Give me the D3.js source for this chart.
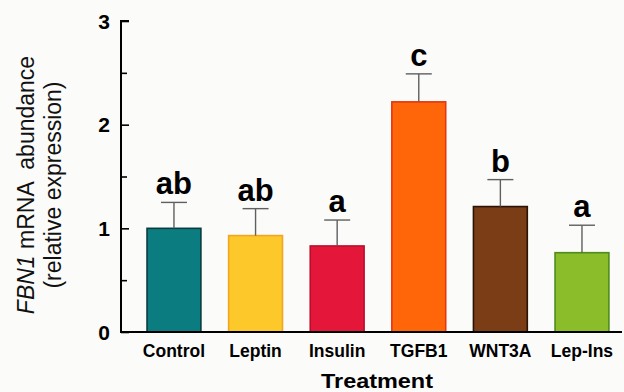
<!DOCTYPE html>
<html lang="en">
<head>
<meta charset="UTF-8">
<title>FBN1 mRNA abundance</title>
<script src="https://d3js.org/d3.v7.min.js"></script>
<style>
    body { margin: 0; background: #fbfbfa; }
    svg { font-family: "Liberation Sans", Arial, sans-serif; }
</style>
</head>
<body>
<svg id="chart" width="624" height="392"></svg>
<script>
// data
const treatments = ['Control', 'Leptin', 'Insulin', 'TGFB1', 'WNT3A', 'Lep-Ins'];
const means = [1.00, 0.93, 0.83, 2.22, 1.21, 0.765];
const errors = [0.25, 0.26, 0.25, 0.27, 0.26, 0.265];
const letters = ['ab', 'ab', 'a', 'c', 'b', 'a'];
const yTicks = [0, 1, 2, 3];
const yMinorTicks = [0.5, 1.5, 2.5];

const fills = ['#0b7c80', '#fdc92a', '#e4173a', '#ff6609', '#7b3d15', '#8bbd2b'];
const strokes = ['#0a3c3f', '#f3a51f', '#b8102c', '#e63512', '#2b1407', '#4f8b1b'];

const width = 624, height = 392;
const margin = { top: 21, right: 0, bottom: 60, left: 121 };

const svg = d3.select('#chart');

const x = d3.scaleBand()
    .domain(treatments)
    .range([margin.left, width - margin.right])
    .paddingInner(0.34)
    .paddingOuter(0.252)
    .align(0.633);

const y = d3.scaleLinear()
    .domain([0, 3])
    .range([height - margin.bottom, margin.top]);

// bars
svg.selectAll('.bar')
    .data(treatments)
    .join('rect')
    .attr('class', 'bar')
    .attr('x', d => x(d))
    .attr('y', (d, i) => y(means[i]))
    .attr('width', x.bandwidth())
    .attr('height', (d, i) => y(0) - y(means[i]))
    .attr('fill', (d, i) => fills[i])
    .attr('stroke', (d, i) => strokes[i])
    .attr('stroke-width', 1.6);

// error bars (upper only)
const err = svg.append('g').attr('stroke', '#5f5f5f').attr('stroke-width', 1.4);
err.selectAll('.stem')
    .data(treatments)
    .join('line')
    .attr('x1', d => x(d) + x.bandwidth() / 2)
    .attr('x2', d => x(d) + x.bandwidth() / 2)
    .attr('y1', (d, i) => y(means[i]))
    .attr('y2', (d, i) => y(means[i] + errors[i]));
err.selectAll('.cap')
    .data(treatments)
    .join('line')
    .attr('x1', d => x(d) + x.bandwidth() / 2 - 13)
    .attr('x2', d => x(d) + x.bandwidth() / 2 + 13)
    .attr('y1', (d, i) => y(means[i] + errors[i]))
    .attr('y2', (d, i) => y(means[i] + errors[i]));

// significance letters
svg.selectAll('.letter')
    .data(treatments)
    .join('text')
    .attr('x', d => x(d) + x.bandwidth() / 2)
    .attr('y', (d, i) => y(means[i] + errors[i]) - 8)
    .attr('text-anchor', 'middle')
    .attr('font-weight', 'bold')
    .attr('font-size', 31)
    .text((d, i) => letters[i]);

// y axis
const yAxis = svg.append('g')
    .attr('transform', `translate(${margin.left},0)`)
    .call(d3.axisRight(y).tickValues(yTicks).tickSize(8).tickFormat(''));
yAxis.select('.domain').attr('d', `M8,${y(3)}H0V${y(0)}`);
yAxis.selectAll('line').attr('stroke-width', 1.6);
yAxis.select('.domain').attr('stroke-width', 2);
svg.append('g')
    .attr('transform', `translate(${margin.left},0)`)
    .call(d3.axisRight(y).tickValues(yMinorTicks).tickSize(6).tickFormat(''))
    .call(g => g.select('.domain').remove())
    .selectAll('line').attr('stroke-width', 1.6);

svg.selectAll('.ylab')
    .data(yTicks)
    .join('text')
    .attr('x', margin.left - 11)
    .attr('y', d => y(d))
    .attr('dy', '0.36em')
    .attr('text-anchor', 'end')
    .attr('font-weight', 'bold')
    .attr('font-size', 21)
    .text(d => d);

// x axis line
svg.append('line')
    .attr('x1', margin.left - 1).attr('x2', width - 2)
    .attr('y1', y(0)).attr('y2', y(0))
    .attr('stroke', '#000').attr('stroke-width', 2);

svg.selectAll('.xlab')
    .data(treatments)
    .join('text')
    .attr('x', d => x(d) + x.bandwidth() / 2)
    .attr('y', y(0) + 25)
    .attr('text-anchor', 'middle')
    .attr('font-weight', 'bold')
    .attr('font-size', 17.5)
    .text(d => d);

svg.append('text')
    .attr('x', 377)
    .attr('y', 388)
    .attr('text-anchor', 'middle')
    .attr('font-weight', 'bold')
    .attr('font-size', 20)
    .attr('textLength', 112)
    .attr('lengthAdjust', 'spacingAndGlyphs')
    .text('Treatment');

// y axis title
const yTitle = svg.append('text')
    .attr('transform', 'translate(34,185) rotate(-90)')
    .attr('text-anchor', 'middle')
    .attr('font-size', 23)
    .attr('fill', '#111');
yTitle.append('tspan').attr('font-style', 'italic').text('FBN1');
yTitle.append('tspan').text(' mRNA  abundance').attr('xml:space', 'preserve');

svg.append('text')
    .attr('transform', 'translate(61,185) rotate(-90)')
    .attr('text-anchor', 'middle')
    .attr('font-size', 23)
    .attr('fill', '#111')
    .text('(relative expression)');
</script>
</body>
</html>
